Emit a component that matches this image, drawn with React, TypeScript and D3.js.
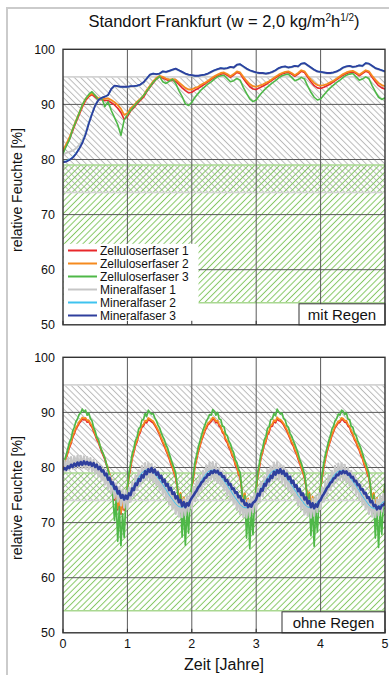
import * as d3 from "d3";

const FONT = "'Liberation Sans', Arial, sans-serif";

const SERIES_NAMES = [
  "Zelluloserfaser 1",
  "Zelluloserfaser 2",
  "Zelluloserfaser 3",
  "Mineralfaser 1",
  "Mineralfaser 2",
  "Mineralfaser 3",
];
const SERIES_COLORS = ["#e8282b", "#f58a1f", "#4fb848", "#c6c6c6", "#3ec3ef", "#2f3f9d"];

const X_TICKS = [0, 1, 2, 3, 4, 5];
const Y_TICKS = [50, 60, 70, 80, 90, 100];
const GRAY_ZONE = [74, 95];
const GREEN_ZONE = [54, 79];

// sample step in years
const STEP_MIT = 0.05;
const STEP_OHNE = 0.025;

// ---- mit Regen (one row per year + end value) ----
const z1Mit = [
  81.5, 82.5, 83.7, 85.2, 86.7, 88.1, 89.5, 90.7, 91.4, 91.8, 91.3, 90.8, 90.9, 90.7, 90.7, 90.3, 89.9, 89.3, 88.5, 87.3,
  87.8, 88.8, 89.4, 90.1, 90.7, 91.3, 92.3, 93.1, 93.9, 94.6, 95.0, 94.8, 94.5, 94.3, 94.4, 94.2, 93.6, 93.0, 92.5, 92.1,
  92.2, 92.6, 92.9, 93.3, 93.7, 94.1, 94.5, 94.9, 95.2, 95.5, 95.6, 95.3, 94.9, 95.3, 95.8, 95.6, 94.7, 93.9, 93.2, 92.8,
  92.7, 93.0, 93.3, 93.6, 94.0, 94.4, 94.8, 95.2, 95.5, 95.7, 95.8, 95.5, 95.1, 95.5, 96.0, 95.8, 94.9, 94.1, 93.4, 93.0,
  92.9, 93.1, 93.4, 93.7, 94.1, 94.5, 94.9, 95.3, 95.6, 95.8, 95.9, 95.6, 95.2, 95.6, 96.0, 95.8, 94.9, 94.1, 93.4, 93.0,
  92.8,
];
const z2Mit = [
  81.7, 82.8, 84.0, 85.5, 87.0, 88.4, 89.8, 91.0, 91.6, 92.0, 91.6, 91.1, 91.2, 91.0, 91.1, 90.8, 90.4, 89.9, 89.2, 88.1,
  88.4, 89.3, 89.8, 90.5, 91.0, 91.6, 92.6, 93.4, 94.2, 94.8, 95.2, 95.0, 94.7, 94.5, 94.6, 94.5, 94.0, 93.5, 93.0, 92.7,
  92.7, 93.0, 93.2, 93.6, 93.9, 94.3, 94.7, 95.1, 95.4, 95.7, 95.8, 95.5, 95.1, 95.5, 96.0, 95.8, 95.0, 94.3, 93.7, 93.3,
  93.2, 93.4, 93.6, 93.9, 94.2, 94.6, 95.0, 95.4, 95.7, 95.9, 96.0, 95.7, 95.3, 95.7, 96.2, 96.0, 95.2, 94.5, 93.9, 93.5,
  93.4, 93.5, 93.7, 94.0, 94.3, 94.7, 95.1, 95.5, 95.8, 96.0, 96.1, 95.8, 95.4, 95.8, 96.2, 96.0, 95.2, 94.5, 93.9, 93.5,
  93.3,
];
const z3Mit = [
  81.0, 82.4, 83.6, 85.5, 86.9, 88.4, 89.9, 91.0, 91.8, 92.3, 91.6, 90.8, 91.2, 89.6, 90.5, 88.9, 87.6, 86.3, 84.4, 87.2,
  88.1, 88.9, 89.6, 90.3, 90.9, 91.6, 92.4, 93.2, 94.0, 94.6, 95.1, 94.1, 93.8, 94.2, 94.6, 93.8, 92.5, 91.4, 90.1, 89.8,
  90.4, 91.3, 92.0, 92.7, 93.2, 93.7, 94.1, 94.6, 95.0, 95.2, 95.3, 94.7, 94.1, 94.3, 94.7, 94.4, 93.1, 92.0, 91.0, 90.5,
  90.8, 91.6, 92.3, 92.9, 93.4, 93.9, 94.3, 94.8, 95.2, 95.4, 95.5, 94.9, 94.3, 94.5, 94.9, 94.6, 93.3, 92.2, 91.3, 90.8,
  91.0, 91.7, 92.4, 93.0, 93.5, 94.0, 94.4, 94.9, 95.3, 95.5, 95.6, 95.0, 94.4, 94.6, 95.0, 94.7, 93.4, 92.3, 91.3, 90.9,
  91.2,
];
const m1Mit = [
  80.8, 81.2, 81.4, 81.6, 82.0, 82.6, 83.5, 84.9, 86.7, 88.4, 89.9, 90.8, 91.2, 91.4, 91.7, 92.7, 93.3, 93.2, 93.1, 93.1,
  93.1, 93.2, 93.2, 93.3, 93.5, 93.9, 94.6, 95.3, 95.5, 95.4, 95.5, 95.9, 95.8, 96.0, 96.2, 96.4, 96.1, 95.8, 95.5, 95.3,
  95.2, 95.1, 95.1, 95.2, 95.3, 95.5, 95.8, 96.1, 96.3, 96.5, 96.4, 96.5, 96.7, 96.6, 97.1, 97.2, 96.8, 96.4, 96.1, 95.9,
  95.7, 95.6, 95.6, 95.5, 95.6, 95.8, 96.1, 96.5, 96.7, 96.8, 96.6, 96.7, 96.9, 96.8, 97.3, 97.4, 97.0, 96.6, 96.2, 95.9,
  95.8, 95.7, 95.6, 95.6, 95.7, 95.9, 96.2, 96.6, 96.8, 96.9, 96.7, 96.8, 97.0, 96.9, 97.4, 97.3, 96.9, 96.5, 96.3, 96.1,
  95.9,
];
const m2Mit = [
  79.6, 79.7, 80.0, 80.4, 81.1, 82.0, 83.1, 84.6, 86.6, 88.3, 89.8, 90.8, 91.2, 91.4, 91.7, 92.8, 93.4, 93.3, 93.2, 93.2,
  93.2, 93.3, 93.3, 93.4, 93.6, 94.0, 94.7, 95.4, 95.6, 95.5, 95.6, 96.0, 95.9, 96.1, 96.3, 96.5, 96.2, 95.9, 95.6, 95.4,
  95.3, 95.2, 95.2, 95.3, 95.4, 95.6, 95.9, 96.2, 96.4, 96.6, 96.5, 96.6, 96.8, 96.7, 97.2, 97.3, 96.9, 96.5, 96.2, 96.0,
  95.8, 95.7, 95.7, 95.6, 95.7, 95.9, 96.2, 96.6, 96.8, 96.9, 96.7, 96.8, 97.0, 96.9, 97.4, 97.5, 97.1, 96.7, 96.3, 96.0,
  95.9, 95.8, 95.7, 95.7, 95.8, 96.0, 96.3, 96.7, 96.9, 97.0, 96.8, 96.9, 97.1, 97.0, 97.5, 97.4, 97.0, 96.6, 96.4, 96.2,
  96.0,
];
const m3Mit = [
  79.5, 79.6, 79.9, 80.3, 81.0, 81.9, 83.0, 84.5, 86.5, 88.2, 89.8, 90.8, 91.2, 91.4, 91.7, 92.8, 93.4, 93.3, 93.2, 93.2,
  93.2, 93.3, 93.3, 93.4, 93.6, 94.0, 94.7, 95.4, 95.6, 95.5, 95.6, 96.0, 95.9, 96.1, 96.3, 96.5, 96.2, 95.9, 95.6, 95.4,
  95.3, 95.2, 95.2, 95.3, 95.4, 95.6, 95.9, 96.2, 96.4, 96.6, 96.5, 96.6, 96.8, 96.7, 97.2, 97.3, 96.9, 96.5, 96.2, 96.0,
  95.8, 95.7, 95.7, 95.6, 95.7, 95.9, 96.2, 96.6, 96.8, 96.9, 96.7, 96.8, 97.0, 96.9, 97.4, 97.5, 97.1, 96.7, 96.3, 96.0,
  95.9, 95.8, 95.7, 95.7, 95.8, 96.0, 96.3, 96.7, 96.9, 97.0, 96.8, 96.9, 97.1, 97.0, 97.5, 97.4, 97.0, 96.6, 96.4, 96.2,
  96.0,
];

// ---- ohne Regen (one row per year + end value) ----
const z1Ohne = [
  80.0, 80.8, 81.7, 82.6, 83.6, 84.3, 85.4, 86.1, 86.9, 87.4, 88.0, 88.3, 88.8, 88.6, 88.7, 88.2, 88.3, 87.7, 87.3, 86.5,
  85.8, 85.0, 84.5, 83.6, 82.8, 82.1, 81.4, 80.4, 79.5, 78.5, 77.2, 75.9, 74.1, 75.3, 72.3, 74.5, 71.5, 73.6, 72.2, 74.5,
  76.0, 78.3, 79.9, 81.6, 82.7, 83.9, 84.6, 85.8, 86.3, 87.3, 87.5, 88.2, 88.1, 88.7, 88.5, 88.3, 88.1, 87.6, 87.1, 86.5,
  85.9, 85.1, 84.4, 83.8, 83.0, 82.3, 81.5, 80.6, 79.8, 78.9, 78.0, 76.2, 74.3, 75.1, 72.7, 74.3, 71.6, 73.5, 72.1, 74.3,
  76.2, 78.1, 80.1, 81.4, 82.8, 83.7, 84.8, 85.6, 86.5, 87.1, 87.7, 88.0, 88.3, 88.8, 88.6, 88.1, 88.2, 87.5, 87.2, 86.3,
  86.0, 84.9, 84.5, 83.6, 83.1, 82.1, 81.6, 80.4, 79.9, 78.7, 78.1, 75.9, 74.0, 75.0, 72.4, 74.1, 71.3, 73.6, 71.8, 74.1,
  76.1, 78.4, 80.0, 81.7, 82.7, 84.0, 84.6, 85.9, 86.3, 87.4, 87.5, 88.3, 88.1, 88.8, 88.5, 88.4, 88.1, 87.7, 87.1, 86.6,
  85.9, 85.2, 84.4, 83.9, 83.0, 82.4, 81.5, 80.7, 79.8, 79.0, 78.0, 76.3, 74.4, 75.2, 72.8, 74.4, 71.7, 73.6, 72.2, 74.4,
  76.1, 78.2, 80.0, 81.5, 82.8, 83.8, 84.7, 85.7, 86.4, 87.2, 87.6, 88.1, 88.2, 88.7, 88.6, 88.2, 88.2, 87.5, 87.2, 86.4,
  85.9, 85.0, 84.5, 83.7, 83.1, 82.2, 81.6, 80.5, 79.9, 78.8, 78.1, 76.1, 74.2, 75.1, 72.5, 74.2, 71.5, 73.5, 72.0, 74.2,
  76.5,
];
const z2Ohne = [
  80.2, 81.0, 81.9, 82.9, 83.9, 84.6, 85.7, 86.4, 87.2, 87.7, 88.3, 88.6, 89.1, 88.9, 89.0, 88.5, 88.6, 88.0, 87.6, 86.8,
  86.1, 85.3, 84.8, 83.9, 83.1, 82.4, 81.7, 80.7, 79.8, 78.8, 77.5, 76.2, 74.4, 75.6, 72.6, 74.8, 71.8, 73.9, 72.5, 74.8,
  76.3, 78.6, 80.2, 81.9, 83.0, 84.2, 84.9, 86.1, 86.6, 87.6, 87.8, 88.5, 88.4, 89.0, 88.8, 88.6, 88.4, 87.9, 87.4, 86.8,
  86.2, 85.4, 84.7, 84.1, 83.3, 82.6, 81.8, 80.9, 80.1, 79.2, 78.3, 76.5, 74.6, 75.4, 73.0, 74.6, 71.9, 73.8, 72.4, 74.6,
  76.5, 78.4, 80.4, 81.7, 83.1, 84.0, 85.1, 85.9, 86.8, 87.4, 88.0, 88.3, 88.6, 89.1, 88.9, 88.4, 88.5, 87.8, 87.5, 86.6,
  86.3, 85.2, 84.8, 83.9, 83.4, 82.4, 81.9, 80.7, 80.2, 79.0, 78.4, 76.2, 74.3, 75.3, 72.7, 74.4, 71.6, 73.9, 72.1, 74.4,
  76.4, 78.7, 80.3, 82.0, 83.0, 84.3, 84.9, 86.2, 86.6, 87.7, 87.8, 88.6, 88.4, 89.1, 88.8, 88.7, 88.4, 88.0, 87.4, 86.9,
  86.2, 85.5, 84.7, 84.2, 83.3, 82.7, 81.8, 81.0, 80.1, 79.3, 78.3, 76.6, 74.7, 75.5, 73.1, 74.7, 72.0, 73.9, 72.5, 74.7,
  76.4, 78.5, 80.3, 81.8, 83.1, 84.1, 85.0, 86.0, 86.7, 87.5, 87.9, 88.4, 88.5, 89.0, 88.9, 88.5, 88.5, 87.8, 87.5, 86.7,
  86.2, 85.3, 84.8, 84.0, 83.4, 82.5, 81.9, 80.8, 80.2, 79.1, 78.4, 76.4, 74.5, 75.4, 72.8, 74.5, 71.8, 73.8, 72.3, 74.5,
  76.8,
];
const z3Ohne = [
  80.5, 81.4, 82.3, 83.4, 84.6, 85.2, 86.6, 87.3, 88.3, 88.8, 89.6, 89.9, 90.6, 90.1, 90.4, 89.5, 89.9, 88.9, 88.5, 87.3,
  86.6, 85.5, 85.1, 84.0, 83.1, 82.5, 81.7, 80.6, 79.5, 78.3, 76.7, 74.6, 70.4, 74.1, 66.6, 72.9, 65.8, 71.6, 67.3, 73.6,
  76.4, 79.1, 80.7, 82.5, 83.5, 84.9, 85.5, 87.0, 87.3, 88.6, 88.7, 89.8, 89.3, 90.4, 90.0, 89.7, 89.8, 89.0, 88.5, 87.7,
  87.2, 86.3, 85.6, 85.0, 84.1, 83.5, 82.5, 81.6, 80.7, 79.9, 78.9, 76.6, 72.1, 75.1, 67.4, 73.1, 65.9, 72.4, 68.1, 74.1,
  76.8, 78.9, 81.0, 82.3, 83.7, 84.7, 85.8, 86.8, 87.6, 88.4, 88.9, 89.6, 89.5, 90.5, 90.2, 89.5, 90.0, 88.8, 88.7, 87.5,
  87.4, 86.1, 85.8, 84.8, 84.3, 83.3, 82.7, 81.4, 80.9, 79.7, 79.1, 76.3, 71.8, 74.9, 67.2, 72.8, 65.3, 72.6, 67.8, 73.8,
  76.5, 79.2, 80.8, 82.6, 83.5, 85.0, 85.6, 87.1, 87.4, 88.7, 88.8, 89.8, 89.4, 90.6, 90.1, 89.7, 89.9, 88.9, 88.6, 87.6,
  87.3, 86.2, 85.7, 84.9, 84.2, 83.4, 82.6, 81.5, 80.8, 79.8, 78.8, 76.7, 72.3, 75.2, 67.6, 73.2, 65.7, 72.5, 68.3, 74.2,
  76.6, 79.0, 80.9, 82.4, 83.6, 84.8, 85.7, 86.9, 87.5, 88.5, 88.9, 89.7, 89.5, 90.4, 90.2, 89.6, 89.9, 88.8, 88.7, 87.5,
  87.3, 86.2, 85.8, 84.9, 84.2, 83.5, 82.6, 81.6, 80.8, 79.9, 78.9, 76.5, 72.0, 75.0, 67.2, 73.0, 65.5, 72.2, 67.9, 73.9,
  77.2,
];
const m1Ohne = [
  80.3, 81.2, 79.3, 81.6, 79.6, 81.9, 79.8, 82.0, 79.8, 82.1, 79.9, 82.1, 79.9, 82.0, 79.8, 81.9, 79.6, 81.7, 79.3, 81.4,
  78.9, 81.0, 78.3, 80.5, 77.6, 79.9, 76.9, 79.2, 76.1, 78.5, 75.3, 77.8, 74.5, 77.1, 73.8, 76.5, 73.1, 76.0, 72.7, 75.8,
  72.5, 76.3, 73.8, 77.4, 74.9, 78.5, 75.9, 79.5, 76.8, 80.3, 77.5, 80.8, 77.8, 80.9, 77.7, 80.6, 77.3, 80.1, 76.7, 79.4,
  75.9, 78.6, 75.1, 77.7, 74.2, 76.8, 73.2, 75.9, 72.4, 75.1, 71.6, 74.4, 71.1, 74.1, 71.0, 74.2, 71.3, 74.7, 72.0, 75.4,
  72.6, 76.5, 73.9, 77.5, 74.8, 78.6, 75.8, 79.4, 76.9, 80.4, 77.4, 80.9, 77.9, 81.0, 77.6, 80.7, 77.2, 80.0, 76.8, 79.3,
  75.8, 78.7, 75.0, 77.8, 74.1, 76.9, 73.3, 75.8, 72.3, 75.0, 71.5, 74.5, 71.0, 74.0, 70.9, 74.1, 71.2, 74.6, 71.9, 75.3,
  72.4, 76.2, 73.7, 77.3, 74.8, 78.4, 75.8, 79.6, 76.7, 80.2, 77.6, 80.9, 77.7, 81.0, 77.8, 80.5, 77.2, 80.2, 76.6, 79.5,
  75.8, 78.5, 75.2, 77.6, 74.3, 76.7, 73.1, 76.0, 72.3, 75.2, 71.5, 74.3, 71.2, 74.0, 70.9, 74.3, 71.2, 74.8, 71.9, 75.3,
  72.5, 76.4, 73.8, 77.5, 74.9, 78.5, 75.9, 79.4, 76.8, 80.3, 77.5, 80.7, 77.8, 80.8, 77.7, 80.5, 77.3, 80.0, 76.7, 79.4,
  75.9, 78.6, 75.1, 77.7, 74.2, 76.8, 73.2, 75.9, 72.4, 75.1, 71.6, 74.4, 71.1, 74.1, 71.0, 74.2, 71.3, 74.7, 72.0, 75.2,
  73.0,
];
const m2Ohne = [
  79.6, 79.8, 79.9, 80.1, 80.2, 80.4, 80.5, 80.6, 80.7, 80.8, 80.8, 80.9, 80.9, 80.9, 80.9, 80.8, 80.8, 80.7, 80.6, 80.5,
  80.3, 80.1, 79.9, 79.6, 79.3, 79.0, 78.6, 78.2, 77.8, 77.4, 76.9, 76.5, 76.0, 75.6, 75.2, 74.9, 74.6, 74.4, 74.3, 74.3,
  74.5, 75.0, 75.6, 76.1, 76.7, 77.2, 77.7, 78.2, 78.6, 79.0, 79.3, 79.5, 79.6, 79.6, 79.5, 79.3, 79.1, 78.8, 78.5, 78.1,
  77.7, 77.3, 76.9, 76.4, 76.0, 75.5, 75.0, 74.6, 74.2, 73.8, 73.4, 73.1, 72.9, 72.8, 72.8, 72.9, 73.1, 73.4, 73.8, 74.1,
  74.4, 74.9, 75.5, 76.0, 76.6, 77.1, 77.6, 78.1, 78.5, 78.9, 79.2, 79.4, 79.5, 79.5, 79.4, 79.2, 79.0, 78.7, 78.4, 78.0,
  77.6, 77.2, 76.8, 76.3, 75.9, 75.4, 74.9, 74.5, 74.1, 73.7, 73.3, 73.0, 72.8, 72.7, 72.7, 72.8, 73.0, 73.3, 73.7, 74.0,
  74.4, 74.9, 75.5, 76.1, 76.6, 77.2, 77.7, 78.1, 78.6, 79.0, 79.3, 79.4, 79.6, 79.5, 79.4, 79.3, 79.0, 78.8, 78.4, 78.1,
  77.6, 77.3, 76.8, 76.4, 75.9, 75.5, 74.9, 74.6, 74.1, 73.8, 73.3, 73.1, 72.8, 72.8, 72.7, 72.9, 73.0, 73.4, 73.7, 74.1,
  74.3, 74.8, 75.4, 76.0, 76.5, 77.0, 77.5, 78.0, 78.4, 78.8, 79.1, 79.3, 79.4, 79.4, 79.3, 79.1, 78.9, 78.6, 78.3, 77.9,
  77.5, 77.1, 76.7, 76.2, 75.8, 75.3, 74.8, 74.4, 74.0, 73.6, 73.2, 72.9, 72.7, 72.6, 72.6, 72.7, 72.9, 73.2, 73.5, 73.8,
  73.8,
];
const m3Ohne = [
  79.5, 79.9, 79.6, 80.2, 79.9, 80.5, 80.1, 80.7, 80.3, 80.9, 80.4, 81.0, 80.5, 81.1, 80.6, 81.0, 80.5, 80.9, 80.3, 80.8,
  80.1, 80.5, 79.7, 80.1, 79.3, 79.5, 78.6, 78.9, 77.8, 78.1, 77.0, 77.3, 76.1, 76.5, 75.3, 75.7, 74.5, 75.0, 74.2, 74.9,
  74.3, 75.3, 75.0, 76.2, 75.9, 77.1, 76.8, 77.9, 77.6, 78.6, 78.2, 79.3, 78.8, 79.7, 79.2, 79.9, 79.1, 79.6, 78.7, 79.1,
  78.1, 78.5, 77.4, 77.8, 76.7, 77.0, 75.9, 76.3, 75.2, 75.5, 74.4, 74.8, 73.7, 74.1, 73.0, 73.7, 72.8, 73.5, 73.1, 74.0,
  74.5, 74.9, 75.4, 75.8, 76.4, 76.7, 77.3, 77.5, 78.1, 78.2, 78.8, 78.7, 79.3, 79.0, 79.5, 79.1, 79.4, 78.8, 79.0, 78.3,
  78.4, 77.6, 77.7, 76.9, 77.0, 76.1, 76.2, 75.4, 75.5, 74.6, 74.8, 73.9, 74.1, 73.2, 73.5, 72.8, 73.3, 72.9, 73.6, 73.8,
  74.2, 75.2, 74.9, 76.1, 75.8, 77.0, 76.7, 77.8, 77.5, 78.5, 78.1, 79.2, 78.7, 79.5, 79.0, 79.7, 78.9, 79.4, 78.5, 78.9,
  77.9, 78.3, 77.2, 77.6, 76.5, 76.8, 75.7, 76.1, 75.0, 75.3, 74.2, 74.6, 73.5, 73.9, 72.8, 73.5, 72.6, 73.3, 72.9, 73.8,
  74.1, 74.8, 75.2, 75.7, 76.3, 76.6, 77.2, 77.4, 78.0, 78.1, 78.7, 78.6, 79.2, 78.9, 79.4, 79.0, 79.3, 78.7, 78.9, 78.2,
  78.3, 77.5, 77.6, 76.8, 76.9, 76.0, 76.1, 75.3, 75.4, 74.5, 74.6, 73.7, 73.9, 73.0, 73.2, 72.4, 72.9, 72.5, 73.1, 73.2,
  73.6,
];

const X_RANGE = [63, 385];
const PANEL_H = 275.5;

function Panel({
  id,
  top,
  step,
  series,
  widths,
  boxText,
  boxWidth,
  legend,
  xLabels,
}: {
  id: string;
  top: number;
  step: number;
  series: number[][];
  widths: number[];
  boxText: string;
  boxWidth: number;
  legend?: boolean;
  xLabels?: boolean;
}) {
  const x = d3.scaleLinear().domain([0, 5]).range(X_RANGE);
  const y = d3.scaleLinear().domain([50, 100]).range([top + PANEL_H, top]);
  const line = d3
    .line<number>()
    .x((_d, i) => x(i * step))
    .y((d) => y(d));
  const left = X_RANGE[0];
  const right = X_RANGE[1];
  const bottom = y(50);

  return (
    <g>
      <defs>
        <clipPath id={`clip-${id}`}>
          <rect x={left} y={top} width={right - left} height={bottom - top} />
        </clipPath>
      </defs>

      {/* hatched zones */}
      <rect x={left} y={y(GRAY_ZONE[1])} width={right - left} height={y(GRAY_ZONE[0]) - y(GRAY_ZONE[1])} fill="url(#hatchGray)" />
      <rect x={left} y={y(GREEN_ZONE[1])} width={right - left} height={y(GREEN_ZONE[0]) - y(GREEN_ZONE[1])} fill="url(#hatchGreen)" />
      {GRAY_ZONE.map((v) => (
        <line key={`g${v}`} x1={left} x2={right} y1={y(v)} y2={y(v)} stroke="#d4d4d4" strokeWidth={1.6} />
      ))}
      {GREEN_ZONE.map((v) => (
        <line key={`n${v}`} x1={left} x2={right} y1={y(v)} y2={y(v)} stroke="#a9d891" strokeWidth={1.4} />
      ))}

      {/* grid */}
      {Y_TICKS.slice(1, -1).map((v) => (
        <line key={`hy${v}`} x1={left} x2={right} y1={y(v)} y2={y(v)} stroke="#5a5a5a" strokeWidth={1} />
      ))}
      {X_TICKS.slice(1, -1).map((v) => (
        <line key={`vx${v}`} x1={x(v)} x2={x(v)} y1={top} y2={bottom} stroke="#5a5a5a" strokeWidth={1} />
      ))}

      {/* series */}
      <g clipPath={`url(#clip-${id})`}>
        {series.map((vals, i) => (
          <path
            key={SERIES_NAMES[i]}
            d={line(vals) ?? ""}
            fill="none"
            stroke={SERIES_COLORS[i]}
            strokeWidth={widths[i]}
            strokeLinejoin="round"
          />
        ))}
      </g>

      {legend && (
        <g>
          <rect x={left + 0.5} y={bottom - 81} width={135} height={81} fill="#fff" />
          {SERIES_NAMES.map((name, i) => {
            const ry = bottom - 74.3 + i * 13;
            return (
              <g key={name}>
                <line x1={left + 5} x2={left + 34} y1={ry} y2={ry} stroke={SERIES_COLORS[i]} strokeWidth={2} />
                <text x={left + 37} y={ry} dy="0.36em" fontSize={12} fill="#111">
                  {name}
                </text>
              </g>
            );
          })}
        </g>
      )}

      {/* bottom ticks */}
      {X_TICKS.map((v) => (
        <line key={`t${v}`} x1={x(v)} x2={x(v)} y1={bottom} y2={bottom - 4} stroke="#333" strokeWidth={1} />
      ))}

      {/* label box */}
      <rect x={right - boxWidth} y={bottom - 21} width={boxWidth} height={21} fill="#fff" stroke="#333" strokeWidth={1} />
      <text x={right - boxWidth / 2} y={bottom - 10.5} dy="0.36em" textAnchor="middle" fontSize={15} fill="#111">
        {boxText}
      </text>

      {/* frame */}
      <rect x={left} y={top} width={right - left} height={bottom - top} fill="none" stroke="#333" strokeWidth={1.4} />

      {Y_TICKS.map((v) => (
        <text key={`yl${v}`} x={55} y={y(v)} dy="0.36em" textAnchor="end" fontSize={12.5} fill="#111">
          {v}
        </text>
      ))}
      {xLabels &&
        X_TICKS.map((v) => (
          <text key={`xl${v}`} x={x(v)} y={bottom + 11} dy="0.36em" textAnchor="middle" fontSize={12.5} fill="#111">
            {v}
          </text>
        ))}

      <text
        transform={`translate(22, ${top + PANEL_H / 2 + 3}) rotate(-90)`}
        textAnchor="middle"
        fontSize={14}
        fill="#111"
      >
        relative Feuchte [%]
      </text>
    </g>
  );
}

export default function App() {
  return (
    <svg
      width={389}
      height={675}
      style={{ position: "absolute", left: 0, top: 0, background: "#fff" }}
      fontFamily={FONT}
    >
      <defs>
        <pattern id="hatchGray" width={4.4} height={4.4} patternUnits="userSpaceOnUse" patternTransform="rotate(-45)">
          <line x1={2.2} y1={0} x2={2.2} y2={4.4} stroke="#b9b9b9" strokeWidth={1} />
        </pattern>
        <pattern id="hatchGreen" width={4.4} height={4.4} patternUnits="userSpaceOnUse" patternTransform="rotate(45)">
          <line x1={2.2} y1={0} x2={2.2} y2={4.4} stroke="#84c663" strokeWidth={1} />
        </pattern>
      </defs>

      <rect x={7} y={8} width={395} height={680} fill="none" stroke="#cbcbcb" strokeWidth={2} />

      <text x={224} y={27} textAnchor="middle" fontSize={16.5} fill="#111">
        Standort Frankfurt (w = 2,0 kg/m
        <tspan fontSize={10} dy={-6}>2</tspan>
        <tspan dy={6}>h</tspan>
        <tspan fontSize={10} dy={-6}>1/2</tspan>
        <tspan dy={6}>)</tspan>
      </text>

      <Panel
        id="mit"
        top={49.3}
        step={STEP_MIT}
        series={[z1Mit, z2Mit, z3Mit, m1Mit, m2Mit, m3Mit]}
        widths={[1.6, 1.8, 1.6, 1.8, 1.5, 1.8]}
        boxText="mit Regen"
        boxWidth={86}
        legend
      />
      <Panel
        id="ohne"
        top={357.3}
        step={STEP_OHNE}
        series={[z1Ohne, z2Ohne, z3Ohne, m1Ohne, m2Ohne, m3Ohne]}
        widths={[1.5, 1.7, 1.7, 2.2, 1.0, 2.6]}
        boxText="ohne Regen"
        boxWidth={103}
        xLabels
      />

      <text x={224} y={670} textAnchor="middle" fontSize={16} fill="#111">
        Zeit [Jahre]
      </text>
    </svg>
  );
}
